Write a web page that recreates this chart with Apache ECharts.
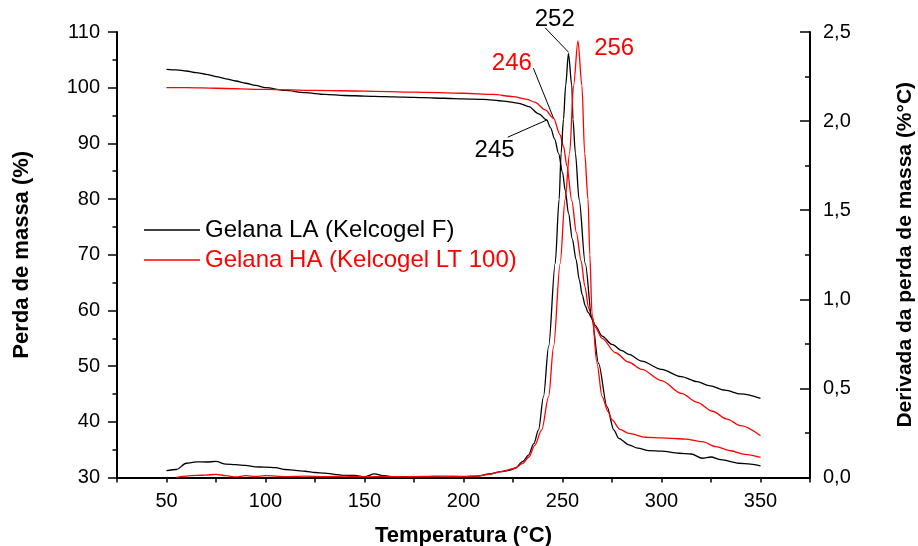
<!DOCTYPE html>
<html>
<head>
<meta charset="utf-8">
<script src="https://cdn.jsdelivr.net/npm/echarts@6/dist/echarts.min.js"></script>
<style>
  html, body { margin: 0; padding: 0; background: #fff; }
  #chart { width: 918px; height: 546px; }
</style>
</head>
<body>
<div id="chart"></div>
<script>
// TG curves (left axis, %)
let tgLA = [[50,103.3],[55,103.2],[60,103.0],[65,102.7],[70,102.4],[75,102.0],[80,101.6],[85,101.2],[90,100.8],[95,100.4],[100,100.0],
  [110,99.5],[120,99.1],[130,98.8],[140,98.6],[150,98.5],[160,98.4],[170,98.3],[180,98.2],[190,98.1],[200,98.0],[210,97.9],[220,97.6],
  [228,97.2],[233,96.6],[238,95.3],[242,94.2],[244,92.8],[246,90.8],[248,88.2],[250,84.8],[251.4,81.5],[253,77.5],[255,72.8],[256.8,69.2],
  [258.5,65.5],[260,62.8],[261.5,60.8],[263,59.6],[264.9,58.6],[266.5,57.3],[270,55.4],[275,53.9],[280,52.8],[283.5,52.1],[290,50.9],
  [300,49.4],[310,48.1],[318,47.2],[324,46.5],[332,45.7],[340,45.0],[350,44.2]];
let tgHA = [[50,100.0],[60,100.0],[75,99.9],[100,99.7],[125,99.5],[150,99.4],[175,99.2],[200,99.0],[215,98.8],[225,98.4],[232,97.9],
  [236,97.4],[241.3,96.0],[245.5,94.5],[248.8,91.5],[250.5,89.5],[252.2,86.0],[254.7,79.7],[257,74.0],[259.4,68.9],[261.3,64.3],
  [263.2,60.4],[264.9,58.7],[266.5,57.0],[270,55.0],[276.7,52.4],[283.5,50.7],[290,49.4],[300,47.4],[310,45.1],[318,43.5],[325.7,41.9],
  [333,40.5],[340,39.3],[350,37.5]];
// DTG curves (right axis, %/°C)
let dtgLA = [[50,0.038],[55,0.045],[60,0.08],[65,0.088],[70,0.087],[75,0.09],[80,0.075],[85,0.072],[90,0.068],[95,0.06],[100,0.058],
  [105,0.055],[110,0.045],[115,0.04],[120,0.035],[125,0.028],[130,0.025],[135,0.018],[140,0.012],[145,0.012],[150,0.004],[155,0.02],
  [160,0.01],[165,0.003],[170,0.003],[180,0.002],[190,0.002],[200,0.003],[207,0.008],[213,0.02],[219,0.033],[223,0.04],[226,0.052],
  [230,0.09],[232.8,0.126],[235.5,0.19],[237.9,0.267],[240.4,0.454],[243,0.735],[246.3,1.2],[248.3,1.56],[249.3,1.82],[250.5,2.01],
  [251.6,2.2],[253,2.38],[254.7,2.2],[255.3,2.01],[256.5,1.82],[258.4,1.56],[261.5,1.2],[264.9,0.885],[268.2,0.64],[272.5,0.398],
  [275.9,0.267],[278.4,0.22],[283.5,0.183],[288,0.165],[293.6,0.151],[300,0.148],[308.8,0.136],[315,0.132],[320.6,0.108],[325,0.115],
  [330,0.1],[339,0.08],[345,0.075],[350,0.065]];
let dtgHA = [[55,0.0],[60,0.008],[65,0.012],[70,0.013],[75,0.018],[80,0.01],[85,0.003],[90,0.01],[95,0.006],[100,0.01],[110,0.005],
  [120,0.008],[130,0.005],[140,0.008],[150,0.004],[160,0.006],[170,0.004],[180,0.006],[190,0.008],[200,0.006],[207,0.008],[213,0.018],
  [219,0.033],[226,0.052],[230,0.08],[233,0.115],[236,0.18],[239.5,0.267],[243,0.454],[245.5,0.735],[248.8,1.2],[251.3,1.56],
  [253.6,1.82],[255.6,2.2],[257.8,2.45],[259.8,2.2],[261.2,1.82],[262.9,1.56],[263.8,1.25],[264.9,0.922],[267.4,0.64],[270,0.454],
  [273,0.37],[275,0.323],[279,0.27],[283.5,0.248],[292,0.226],[300,0.222],[305.4,0.22],[312,0.215],[320.6,0.201],[327.4,0.173],
  [335,0.15],[342,0.13],[350,0.113]];

let names = ['Gelana LA (Kelcogel F)', 'Gelana HA (Kelcogel LT 100)'];

// annotations: text, colour, y axis, text anchor, leader line [from, to] (data coords)
let notes = [
  { t: '252', c: '#000', ax: 1, at: [246.1, 2.57], line: [[241.2, 2.524], [253.1, 2.386]] },
  { t: '256', c: '#ff0000', ax: 1, at: [276.1, 2.41], line: null },
  { t: '246', c: '#ff0000', ax: 0, at: [224.4, 104.3], line: [[235.3, 103.5], [245.5, 94.5]] },
  { t: '245', c: '#000', ax: 0, at: [215.7, 88.8], line: [[222.3, 91.1], [242.1, 94.2]] }
];

const FONT = '"Liberation Sans", Arial, sans-serif';
let chart = echarts.init(document.getElementById('chart'));

function line(name, data, color, yIdx) {
  return {
    name: name, type: 'line', data: data, yAxisIndex: yIdx,
    showSymbol: false, symbol: 'none', smooth: 0.3, smoothMonotone: 'x',
    lineStyle: { color: color, width: 1.3 }, itemStyle: { color: color },
    animation: false
  };
}

chart.setOption({
  backgroundColor: '#fff',
  animation: false,
  grid: { left: 117, right: 108, top: 32, bottom: 68.5, outerBoundsMode: 'none', containLabel: false },
  legend: {
    left: 139, top: 213, orient: 'vertical', itemGap: 6,
    itemWidth: 56, itemHeight: 1.5, icon: 'rect',
    textStyle: { fontFamily: FONT, fontSize: 24 },
    data: [
      { name: names[0], textStyle: { color: '#000' } },
      { name: names[1], textStyle: { color: '#ff0000' } }
    ]
  },
  xAxis: {
    type: 'value', min: 25, max: 375, interval: 25,
    name: 'Temperatura (°C)', nameLocation: 'middle', nameGap: 47,
    nameTextStyle: { fontFamily: FONT, fontSize: 22, fontWeight: 'bold', color: '#000' },
    axisLine: { lineStyle: { color: '#000', width: 2 } },
    axisTick: { inside: false, length: 5, lineStyle: { color: '#000', width: 1.5 } },
    axisLabel: {
      margin: 14, fontFamily: FONT, fontSize: 20, color: '#000',
      formatter: v => (v % 50 === 0 ? String(v) : '')
    },
    splitLine: { show: false }
  },
  yAxis: [
    {
      type: 'value', min: 30, max: 110, interval: 10,
      name: 'Perda de massa (%)', nameLocation: 'middle', nameGap: 84, nameRotate: 90,
      nameTextStyle: { fontFamily: FONT, fontSize: 22, fontWeight: 'bold', color: '#000' },
      axisLine: { show: true, lineStyle: { color: '#000', width: 2 } },
      axisTick: { show: true, inside: false, length: 9, lineStyle: { color: '#000', width: 1.5 } },
      minorTick: { show: true, splitNumber: 2, length: 4.5, lineStyle: { color: '#000', width: 1.5 } },
      axisLabel: { margin: 17, fontFamily: FONT, fontSize: 20, color: '#000' },
      splitLine: { show: false }
    },
    {
      type: 'value', min: 0, max: 2.5, interval: 0.5, position: 'right',
      name: 'Derivada da perda de massa (%°C)', nameLocation: 'middle', nameGap: 85, nameRotate: 90,
      nameTextStyle: { fontFamily: FONT, fontSize: 21, fontWeight: 'bold', color: '#000' },
      axisLine: { show: true, lineStyle: { color: '#000', width: 2 } },
      axisTick: { show: true, inside: true, length: 10, lineStyle: { color: '#000', width: 1.5 } },
      minorTick: { show: true, splitNumber: 2, length: 5, lineStyle: { color: '#000', width: 1.5 } },
      axisLabel: {
        margin: 13, fontFamily: FONT, fontSize: 20, color: '#000',
        formatter: v => v.toFixed(1).replace('.', ',')
      },
      splitLine: { show: false }
    }
  ],
  series: [
    line(names[0], tgLA, '#000', 0),
    line(names[1], tgHA, '#ff0000', 0),
    line('DTG LA', dtgLA, '#000', 1),
    line('DTG HA', dtgHA, '#ff0000', 1)
  ]
});

// annotation texts and leader lines, placed through the axes
let g = [];
notes.forEach(n => {
  let p = chart.convertToPixel({ xAxisIndex: 0, yAxisIndex: n.ax }, n.at);
  g.push({
    type: 'text', x: p[0], y: p[1], silent: true,
    style: { text: n.t, fill: n.c, font: '24px ' + FONT, align: 'center', verticalAlign: 'middle' }
  });
  if (n.line) {
    let a = chart.convertToPixel({ xAxisIndex: 0, yAxisIndex: n.ax }, n.line[0]);
    let b = chart.convertToPixel({ xAxisIndex: 0, yAxisIndex: n.ax }, n.line[1]);
    g.push({
      type: 'line', silent: true,
      shape: { x1: a[0], y1: a[1], x2: b[0], y2: b[1] },
      style: { stroke: '#000', lineWidth: 1 }
    });
  }
});
chart.setOption({ graphic: g });
</script>
</body>
</html>
